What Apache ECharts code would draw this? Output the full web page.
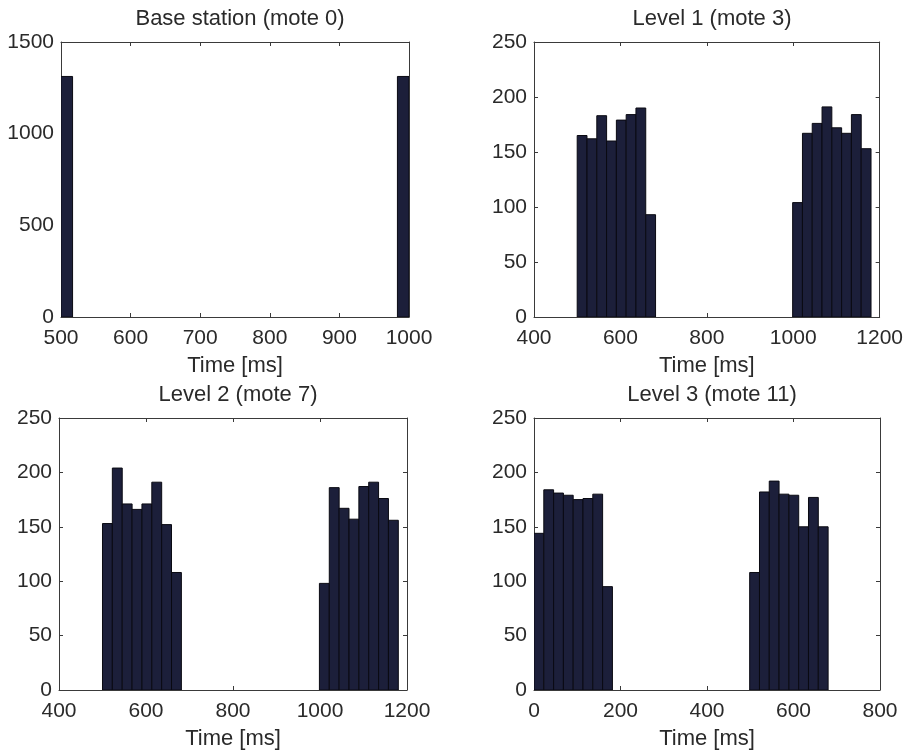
<!DOCTYPE html>
<html>
<head>
<meta charset="utf-8">
<title>Packet arrival histograms</title>
<script src="https://cdn.jsdelivr.net/npm/echarts@6/dist/echarts.min.js"></script>
<style>
  html, body { margin: 0; padding: 0; background: #ffffff; }
  #chart { width: 906px; height: 751px; }
</style>
</head>
<body>
<div id="chart"></div>
<script>
// Histogram bin centres [ms] and packet counts for each mote
const panelTitles = ['Base station (mote 0)', 'Level 1 (mote 3)', 'Level 2 (mote 7)', 'Level 3 (mote 11)'];
const xLabel = 'Time [ms]';

const baseBinWidth = 16.67;
const baseCenters = [508.3, 991.7];
const baseCounts = [1312, 1312];

const levelBinWidth = 22.67;
const level1Centers = [511.3, 534.0, 556.7, 579.3, 602.0, 624.7, 647.3, 670.0,
                       1010.0, 1032.7, 1055.3, 1078.0, 1100.7, 1123.3, 1146.0, 1168.7];
const level1Counts = [165, 162, 183, 160, 179, 184, 190, 93,
                      104, 167, 176, 191, 172, 167, 184, 153];

const level2Centers = [511.3, 534.0, 556.7, 579.3, 602.0, 624.7, 647.3, 670.0,
                       1010.0, 1032.7, 1055.3, 1078.0, 1100.7, 1123.3, 1146.0, 1168.7];
const level2Counts = [153, 204, 171, 166, 171, 191, 152, 108,
                      98, 186, 167, 157, 187, 191, 176, 156];

const level3Centers = [11.3, 34.0, 56.7, 79.3, 102.0, 124.7, 147.3, 170.0,
                       510.0, 532.7, 555.3, 578.0, 600.7, 623.3, 646.0, 668.7];
const level3Counts = [144, 184, 181, 179, 175, 176, 180, 95,
                      108, 182, 192, 180, 179, 150, 177, 150];

// Axis ranges and tick steps
const xRanges = [[500, 1000, 100], [400, 1200, 200], [400, 1200, 200], [0, 800, 200]];
const yRanges = [[0, 1500, 500], [0, 250, 50], [0, 250, 50], [0, 250, 50]];

const panels = [
  { centers: baseCenters, counts: baseCounts, width: baseBinWidth },
  { centers: level1Centers, counts: level1Counts, width: levelBinWidth },
  { centers: level2Centers, counts: level2Counts, width: levelBinWidth },
  { centers: level3Centers, counts: level3Counts, width: levelBinWidth }
];

const grids = [
  { left: 61, top: 42, width: 348, height: 275 },
  { left: 534, top: 42, width: 346, height: 275 },
  { left: 59, top: 418, width: 348, height: 273 },
  { left: 534, top: 418, width: 346, height: 273 }
];

const FONT = 'Liberation Sans, Arial, Helvetica, sans-serif';
const TEXT = '#2a2a2a';
const AXIS = '#3a3a3a';
const BAR = '#1c1f3a';
const plain = v => String(v);

const chart = echarts.init(document.getElementById('chart'), null, { renderer: 'canvas' });

const xAxes = [], yAxes = [], series = [], titles = [];

grids.forEach((g, i) => {
  const [xmin, xmax, xstep] = xRanges[i];
  const [ymin, ymax, ystep] = yRanges[i];
  const common = {
    gridIndex: i,
    type: 'value',
    splitLine: { show: false },
    axisLine: { show: true, onZero: false, lineStyle: { color: AXIS, width: 1 } },
    axisTick: { show: true, inside: true, length: 4, lineStyle: { color: AXIS } }
  };
  // bottom axis with labels
  xAxes.push(Object.assign({}, common, {
    position: 'bottom', min: xmin, max: xmax, interval: xstep,
    name: xLabel, nameLocation: 'middle', nameGap: 38,
    nameTextStyle: { fontFamily: FONT, fontSize: 22, color: TEXT },
    axisLabel: { show: true, margin: 11, fontFamily: FONT, fontSize: 21, color: TEXT, formatter: plain }
  }));
  // top axis for the box ticks
  xAxes.push(Object.assign({}, common, {
    position: 'top', min: xmin, max: xmax, interval: xstep,
    axisLabel: { show: false }
  }));
  yAxes.push(Object.assign({}, common, {
    position: 'left', min: ymin, max: ymax, interval: ystep,
    axisLabel: { show: true, margin: 7, fontFamily: FONT, fontSize: 21, color: TEXT, formatter: plain }
  }));
  yAxes.push(Object.assign({}, common, {
    position: 'right', min: ymin, max: ymax, interval: ystep,
    axisLabel: { show: false }
  }));

  const p = panels[i];
  const data = p.centers.map((c, k) => [c - p.width / 2, c + p.width / 2, p.counts[k]]);
  series.push({
    type: 'custom',
    xAxisIndex: i * 2,
    yAxisIndex: i * 2,
    data: data,
    encode: { x: [0, 1], y: 2 },
    clip: true,
    renderItem: function (params, api) {
      const p0 = api.coord([api.value(0), api.value(2)]);
      const p1 = api.coord([api.value(1), 0]);
      return {
        type: 'rect',
        shape: { x: p0[0], y: p0[1], width: p1[0] - p0[0], height: p1[1] - p0[1] },
        style: { fill: BAR, stroke: '#0a0a12', lineWidth: 1 }
      };
    }
  });

  titles.push({
    text: panelTitles[i],
    left: g.left + g.width / 2,
    top: g.top - 39,
    textAlign: 'center',
    textStyle: { fontFamily: FONT, fontSize: 22, fontWeight: 'normal', color: TEXT }
  });
});

chart.setOption({
  backgroundColor: '#ffffff',
  animation: false,
  title: titles,
  grid: grids,
  xAxis: xAxes,
  yAxis: yAxes,
  series: series
});
</script>
</body>
</html>
